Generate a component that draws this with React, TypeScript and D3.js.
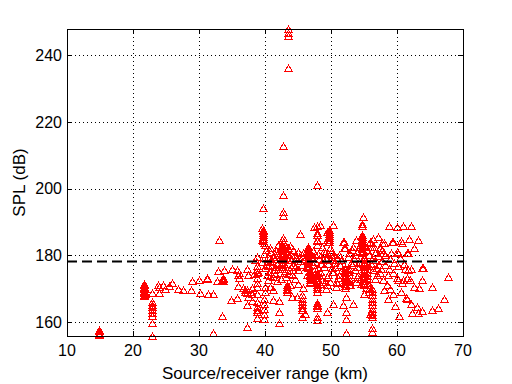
import { useEffect, useRef } from "react";
import * as d3 from "d3";

// [range km, SPL dB], grouped by range band
const near = [
  [14.8, 156.0], [14.8, 156.4], [14.8, 156.8], [14.8, 157.2], [14.8, 157.5], [14.9, 156.2],
  [21.7, 167.8], [21.7, 168.2], [21.7, 168.6], [21.7, 169.0], [21.7, 169.4], [21.7, 169.8],
  [21.7, 170.2], [21.7, 170.6], [21.7, 171.0], [21.7, 171.3], [21.8, 168.4], [21.8, 170.0],
  [22.9, 155.9], [22.9, 159.7], [22.9, 161.8], [22.9, 162.7], [22.9, 163.6], [22.9, 164.5],
  [22.9, 165.1], [22.9, 166.0], [22.9, 168.7],
  [23.8, 171.0], [23.9, 170.5], [23.9, 168.7], [24.5, 171.0], [24.8, 170.0], [25.5, 170.8],
  [25.9, 171.7], [26.8, 169.9], [27.6, 169.6], [28.8, 169.6], [28.9, 172.3], [30.0, 172.6],
  [30.1, 168.7],
];

const mid = [
  [31.2, 172.9], [31.2, 173.2], [31.4, 168.5], [32.1, 168.5], [32.1, 156.7], [32.7, 172.3],
  [32.9, 175.3], [33.0, 184.6], [33.5, 161.8], [33.6, 172.3], [33.6, 172.8], [33.7, 173.2],
  [33.5, 172.6], [33.8, 175.5], [34.8, 166.6], [35.0, 175.8], [35.8, 175.5], [35.8, 167.2],
  [35.9, 174.1], [36.0, 174.7], [36.1, 173.2], [35.9, 170.8], [36.7, 170.2], [36.9, 169.6],
  [37.0, 169.0], [37.2, 168.7], [37.3, 169.5], [37.3, 176.0], [37.4, 174.1], [37.3, 165.1],
  [37.4, 167.5], [37.7, 169.0], [37.3, 158.5], [38.3, 174.4], [38.8, 179.5], [38.8, 176.8],
  [38.8, 175.6], [38.8, 174.7], [38.8, 173.2], [38.8, 171.7], [38.8, 170.5], [38.8, 168.4],
  [38.8, 166.0], [38.8, 164.5], [38.8, 163.6], [38.8, 163.0], [38.8, 161.2], [38.0, 170.2],
  [38.0, 168.4], [38.0, 166.3], [38.9, 175.0], [38.5, 178.5],
  [39.5, 188.2], [39.5, 184.6], [39.7, 194.2], [39.7, 187.7], [39.7, 187.2], [39.7, 186.7],
  [39.7, 186.2], [39.7, 185.6], [39.7, 185.0], [39.7, 184.3], [39.8, 183.7], [40.0, 183.1],
  [39.8, 167.0], [39.8, 165.5], [39.8, 164.0], [39.8, 162.5], [39.8, 161.0],
];

const peak = [
  [40.0, 176.2], [40.5, 172.6], [40.8, 175.0], [40.8, 182.2], [40.8, 181.0], [41.2, 173.5],
  [41.5, 176.5], [41.5, 180.1], [42.0, 180.7], [42.0, 183.1], [42.6, 184.6], [43.0, 183.1],
  [43.5, 182.2], [42.6, 183.1], [42.7, 185.2], [42.7, 184.0],
  [42.6, 182.2], [42.6, 181.5], [42.6, 180.8], [42.6, 180.1], [42.6, 179.4], [42.6, 178.7],
  [42.6, 178.0], [42.6, 177.3], [42.6, 176.6], [42.6, 176.0],
  [42.9, 181.8], [42.9, 180.5], [42.9, 179.0], [42.9, 177.5], [42.9, 176.0],
  [43.3, 181.0], [43.3, 180.0], [43.3, 179.2], [43.5, 178.5],
  [40.0, 170.5], [40.0, 169.0], [40.8, 170.5], [41.2, 169.6], [41.2, 166.6], [42.1, 166.3],
  [42.1, 163.0], [42.1, 159.7],
  [43.3, 171.0], [43.3, 170.5], [43.3, 170.0], [43.3, 169.5], [43.3, 169.0],
  [43.8, 171.0], [44.1, 167.5], [44.8, 167.5], [45.0, 171.4], [45.8, 170.2], [44.5, 176.5],
  [45.0, 175.6], [44.1, 174.1], [45.0, 181.0], [45.8, 180.7], [45.3, 186.4],
  [42.7, 198.1], [42.7, 193.0], [42.7, 191.8], [42.7, 212.8],
  [43.5, 247.8], [43.5, 246.7], [43.5, 245.8], [43.5, 236.2],
  [44.0, 178.5], [44.3, 177.0], [44.7, 179.0], [45.3, 178.3], [45.6, 177.2], [44.0, 180.0],
  [41.0, 178.0], [41.5, 178.8], [40.3, 178.0], [40.5, 179.5], [41.0, 177.0], [39.5, 178.0],
  [39.8, 180.5], [40.2, 181.5], [41.8, 177.5], [40.5, 176.8], [41.3, 175.5], [42.2, 174.8],
  [43.0, 175.2], [43.6, 174.5], [42.5, 173.0], [41.8, 172.2], [40.3, 174.0],
  [40.2, 177.0], [40.7, 178.3], [41.2, 179.5], [41.7, 181.2], [42.3, 182.0], [43.8, 182.8],
  [44.3, 181.5], [44.6, 180.2], [43.9, 176.5], [44.2, 175.5], [41.5, 174.5], [42.0, 176.0],
  [40.8, 173.8], [43.2, 173.5], [44.6, 173.0],
];

const centre = [
  [46.5, 182.5], [46.5, 182.0], [46.5, 181.4], [46.5, 180.8], [46.5, 180.2], [46.5, 179.6],
  [46.5, 179.0], [46.5, 178.6], [46.5, 178.0], [46.5, 177.4], [46.5, 176.8], [46.5, 176.2],
  [46.8, 175.0], [46.8, 174.4], [46.8, 173.8], [46.8, 173.2], [46.8, 172.6], [46.8, 172.0],
  [46.8, 171.7],
  [47.4, 188.5], [47.9, 186.7], [47.9, 184.6], [47.9, 186.1], [47.9, 184.3], [47.9, 188.8],
  [48.3, 189.1], [49.4, 187.0], [49.4, 184.6], [47.9, 201.1],
  [49.7, 187.6], [49.7, 187.0], [49.7, 186.4], [49.7, 185.8], [49.7, 185.2], [49.7, 184.6],
  [49.7, 184.0],
  [47.9, 183.1], [48.6, 182.5], [49.1, 180.7], [49.5, 184.0], [49.8, 182.2], [50.0, 181.0],
  [50.2, 179.5], [50.3, 189.1],
  [48.0, 176.2], [48.6, 174.1], [49.4, 173.5], [50.2, 175.0], [48.6, 172.6], [49.8, 172.0],
  [47.9, 174.7], [47.9, 174.0], [47.9, 173.3], [47.9, 172.6], [47.9, 171.9], [47.9, 171.2],
  [47.9, 170.5], [47.9, 169.8], [47.9, 169.0],
  [47.9, 165.7], [47.9, 165.2], [47.9, 164.7], [47.9, 164.2], [47.9, 161.5], [47.9, 160.6],
  [45.6, 168.1], [45.6, 167.0], [45.6, 166.0], [45.6, 165.0], [45.6, 164.2], [45.6, 163.6],
  [46.1, 162.4], [45.6, 161.5],
  [49.4, 163.0], [50.3, 165.4], [51.8, 165.1], [49.5, 174.1], [49.1, 172.0], [49.4, 171.1],
  [50.8, 172.0], [50.8, 170.5], [51.2, 174.1], [50.3, 175.0], [51.1, 173.2], [50.9, 171.7],
  [51.8, 184.0], [52.1, 182.2], [52.0, 184.0], [52.0, 182.2],
  [46.0, 179.0], [47.0, 179.5], [47.5, 178.0], [48.2, 179.0], [48.8, 178.5], [49.3, 179.0],
  [49.9, 178.6], [50.5, 177.8], [47.2, 177.0], [48.5, 177.5], [49.0, 176.5], [50.6, 176.5],
  [45.2, 179.5], [46.2, 176.5],
  [46.2, 181.0], [46.9, 180.5], [47.3, 181.2], [47.6, 180.0], [48.1, 180.5], [48.9, 181.2],
  [49.5, 180.3], [50.4, 180.2], [50.9, 179.2], [51.4, 177.0], [51.7, 175.5], [47.6, 175.8],
  [48.3, 175.0], [49.6, 177.5], [50.1, 176.3], [46.3, 174.0], [47.2, 173.0], [48.3, 171.5],
  [49.2, 170.0],
];

const dense = [
  [52.1, 176.2], [52.1, 175.5], [52.1, 174.8], [52.1, 174.1], [52.1, 173.4], [52.1, 172.7],
  [52.1, 172.0], [52.1, 171.4], [52.1, 170.8], [52.1, 170.2],
  [52.7, 176.0], [52.7, 175.0], [52.7, 174.0], [52.7, 173.0], [52.7, 172.0], [52.7, 171.1],
  [52.3, 167.5], [53.3, 165.4], [52.3, 163.0], [52.3, 160.9], [52.3, 156.7], [52.9, 171.1],
  [53.9, 173.5], [54.1, 174.1], [53.3, 182.5], [53.2, 181.6], [53.9, 181.0], [54.8, 181.0],
  [54.8, 191.5], [54.7, 189.4], [54.7, 188.8], [54.7, 186.1], [54.7, 185.5], [54.7, 184.9],
  [54.7, 184.3], [54.7, 183.7], [54.7, 183.1], [54.7, 182.5], [54.7, 181.9], [54.7, 181.3],
  [54.7, 180.7],
  [55.0, 179.5], [55.0, 178.8], [55.0, 178.0], [55.0, 177.3], [55.0, 176.6], [55.0, 175.9],
  [55.0, 175.2], [55.0, 174.5], [55.0, 173.8], [55.0, 173.1], [55.0, 172.4], [55.0, 171.7],
  [55.0, 171.1],
  [55.5, 177.7], [55.5, 176.8], [55.5, 175.8], [55.5, 174.8], [55.5, 173.8], [55.5, 172.8],
  [55.5, 171.8],
  [55.0, 168.4], [55.9, 162.4],
  [56.2, 170.0], [56.2, 169.0], [56.2, 168.0], [56.2, 167.0], [56.2, 166.0], [56.2, 165.0],
  [56.2, 164.0], [56.2, 163.0], [56.2, 162.0], [56.2, 161.5], [56.2, 158.2], [56.2, 157.0],
  [55.8, 171.0], [55.8, 170.0], [55.8, 169.0],
  [55.9, 182.5], [56.5, 182.5], [57.7, 181.6], [56.2, 182.5], [57.4, 182.2], [57.7, 183.7],
  [56.7, 180.7], [57.9, 180.7], [56.4, 175.6], [57.4, 174.7], [57.9, 172.6], [58.6, 174.1],
  [53.2, 177.0], [53.9, 176.5], [53.5, 179.0], [54.2, 178.0], [51.5, 178.5], [51.2, 180.0],
  [52.5, 179.5], [53.0, 177.8], [56.0, 177.5], [56.6, 178.5], [57.2, 177.0], [57.8, 178.2],
  [56.8, 176.2], [55.8, 180.0], [56.3, 179.5],
  [53.6, 175.5], [54.3, 176.5], [54.4, 173.0], [53.8, 172.0], [54.5, 171.4], [55.3, 170.2],
  [56.6, 172.8], [56.9, 174.0], [57.5, 175.8], [57.1, 179.8], [58.2, 180.0], [58.9, 179.0],
  [53.7, 180.0], [54.2, 182.5], [52.8, 180.8], [55.9, 184.0], [56.4, 184.8], [57.1, 185.5],
  [53.8, 184.5], [55.4, 181.5],
];

const far = [
  [58.8, 188.8], [60.0, 188.5], [60.9, 188.8], [62.1, 188.8], [58.0, 183.7], [59.2, 184.0],
  [60.6, 184.3], [61.8, 184.9], [63.2, 184.6], [62.6, 182.2], [59.1, 180.7], [60.2, 180.7],
  [61.7, 180.7], [63.8, 176.2], [59.4, 184.0], [60.8, 183.7], [60.0, 181.0], [60.5, 179.2],
  [61.5, 180.7], [59.4, 174.7], [60.0, 173.2], [60.8, 171.7], [61.5, 173.2],
  [58.6, 166.9], [59.7, 164.8], [60.3, 161.8], [59.4, 168.4], [60.6, 169.0], [61.4, 167.2],
  [61.5, 166.9], [62.1, 165.4], [63.0, 164.5], [63.8, 163.3], [62.3, 162.7], [63.2, 162.7],
  [65.3, 163.6], [66.2, 164.2], [67.1, 166.9], [67.7, 173.5], [65.3, 170.5], [63.8, 172.6],
  [63.3, 170.2], [62.6, 170.5], [63.9, 176.2], [62.1, 175.9], [61.7, 175.6], [61.2, 175.9],
  [62.0, 172.6], [60.9, 172.6], [60.8, 171.7], [60.2, 172.6],
  [58.2, 177.0], [58.8, 176.0], [59.5, 177.8], [60.2, 176.8], [61.0, 177.5], [58.5, 171.0],
  [59.0, 170.0], [58.0, 169.5],
];

const xTicks = [10, 20, 30, 40, 50, 60, 70];
const yTicks = [160, 180, 200, 220, 240];
const threshold = 178.1;

const App = () => {
  const svgRef = useRef<SVGSVGElement>(null);

  useEffect(() => {
    const svg = d3.select(svgRef.current);
    svg.selectAll("*").remove();

    const margin = { top: 29, right: 49, bottom: 48, left: 67 };
    const width = 512 - margin.left - margin.right;
    const height = 384 - margin.top - margin.bottom;

    const x = d3.scaleLinear().domain([10, 70]).range([0, width]);
    const y = d3.scaleLinear().domain([155.8, 247.8]).range([height, 0]);

    const g = svg
      .append("g")
      .attr("transform", `translate(${margin.left},${margin.top})`);

    // dotted grid
    g.selectAll(".gx")
      .data(xTicks.slice(1, -1))
      .enter()
      .append("line")
      .attr("x1", (d) => Math.round(x(d)) + 0.5)
      .attr("x2", (d) => Math.round(x(d)) + 0.5)
      .attr("y1", 0)
      .attr("y2", height)
      .attr("stroke", "#000")
      .attr("stroke-dasharray", "1,3");

    g.selectAll(".gy")
      .data(yTicks)
      .enter()
      .append("line")
      .attr("x1", 0)
      .attr("x2", width)
      .attr("y1", (d) => Math.round(y(d)) + 0.5)
      .attr("y2", (d) => Math.round(y(d)) + 0.5)
      .attr("stroke", "#000")
      .attr("stroke-dasharray", "1,3");

    const points = [...near, ...mid, ...peak, ...centre, ...dense, ...far];

    g.selectAll(".pt")
      .data(points)
      .enter()
      .append("path")
      .attr("class", "pt")
      .attr("transform", (d) => `translate(${Math.round(x(d[0])) + 0.5},${Math.round(y(d[1])) + 0.5})`)
      .attr("d", "M0,-3.5L3.5,2.5L-3.5,2.5Z")
      .attr("fill", "none")
      .attr("stroke", "#ff0000")
      .attr("stroke-width", 1)
      .attr("shape-rendering", "crispEdges");

    g.append("line")
      .attr("x1", x(10))
      .attr("x2", x(70))
      .attr("y1", y(threshold))
      .attr("y2", y(threshold))
      .attr("stroke", "#000")
      .attr("stroke-width", 2)
      .attr("stroke-dasharray", "10,5");

    // box and inward ticks
    g.append("rect")
      .attr("x", 0.5)
      .attr("y", 0.5)
      .attr("width", width)
      .attr("height", height)
      .attr("fill", "none")
      .attr("stroke", "#000");

    xTicks.forEach((t) => {
      const px = Math.round(x(t)) + 0.5;
      g.append("line").attr("x1", px).attr("x2", px).attr("y1", height).attr("y2", height - 5).attr("stroke", "#000");
      g.append("line").attr("x1", px).attr("x2", px).attr("y1", 0).attr("y2", 5).attr("stroke", "#000");
      g.append("text")
        .attr("x", x(t))
        .attr("y", height + 20)
        .attr("text-anchor", "middle")
        .style("font-family", "'Liberation Sans', Arial, sans-serif")
        .style("font-size", "16px")
        .text(t);
    });

    yTicks.forEach((t) => {
      const py = Math.round(y(t)) + 0.5;
      g.append("line").attr("x1", 0).attr("x2", 5).attr("y1", py).attr("y2", py).attr("stroke", "#000");
      g.append("line").attr("x1", width).attr("x2", width - 5).attr("y1", py).attr("y2", py).attr("stroke", "#000");
      g.append("text")
        .attr("x", -5)
        .attr("y", y(t))
        .attr("dy", "0.36em")
        .attr("text-anchor", "end")
        .style("font-family", "'Liberation Sans', Arial, sans-serif")
        .style("font-size", "16px")
        .text(t);
    });

    g.append("text")
      .attr("x", width / 2)
      .attr("y", height + 43)
      .attr("text-anchor", "middle")
      .style("font-family", "'Liberation Sans', Arial, sans-serif")
      .style("font-size", "17px")
      .text("Source/receiver range (km)");

    g.append("text")
      .attr("transform", `translate(${-42},${height / 2}) rotate(-90)`)
      .attr("text-anchor", "middle")
      .style("font-family", "'Liberation Sans', Arial, sans-serif")
      .style("font-size", "17px")
      .text("SPL (dB)");
  }, []);

  return (
    <svg
      ref={svgRef}
      width={512}
      height={384}
      style={{ position: "absolute", left: 0, top: 0, background: "#fff" }}
    ></svg>
  );
};

export default App;
